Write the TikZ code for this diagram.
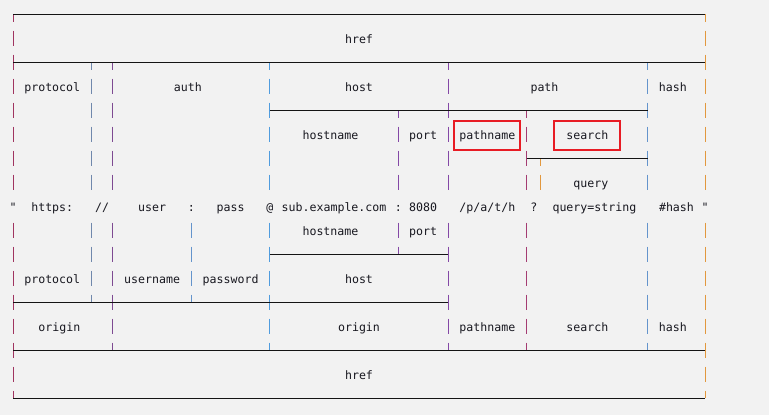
\documentclass[tikz,border=0pt]{standalone}
\usepackage{fontspec}
\newfontfamily\diagfont{DejaVu Sans Mono}[Ligatures=TeXOff]
\definecolor{bgcol}{RGB}{242,242,242}
\definecolor{txtcol}{RGB}{24,24,32}
\definecolor{linecol}{RGB}{20,20,20}
\definecolor{boxred}{RGB}{232,28,36}
\definecolor{barcrimson}{RGB}{160,52,96}
\definecolor{bargrey}{RGB}{112,136,172}
\definecolor{barplum}{RGB}{126,74,146}
\definecolor{barsky}{RGB}{100,148,204}
\definecolor{barblue}{RGB}{80,156,222}
\definecolor{barpurple}{RGB}{132,72,166}
\definecolor{barmagenta}{RGB}{164,60,114}
\definecolor{barorange}{RGB}{226,152,62}
\tikzset{
    vbar/.style={line width=0.75pt, dash pattern=on 11.25pt off 6.75pt},
    vtee/.style={vbar, dash phase=5.625pt},
    hbar/.style={line width=0.75pt, draw=linecol},
    lbl/.style={font=\diagfont\fontsize{8.7pt}{10pt}\selectfont, text=txtcol, inner sep=0pt,
        text height=6.4pt, text depth=1.8pt, anchor=base, yshift=-3.75pt},
    redbox/.style={draw=boxred, line width=1.5pt, minimum width=49.5pt, minimum height=21.75pt}
}

\begin{document}
\begin{tikzpicture}[x=5.3505pt, y=-18pt]
            \useasboundingbox[fill=bgcol] (-1.8223,-0.5833) rectangle (105.97,16.7083);
            \draw[vtee, draw=barcrimson] (0,0)--(0,7.3125);
            \draw[vbar, draw=barcrimson] (0,8.6875)--(0,16);
            \draw[vtee, draw=bargrey] (11,2)--(11,7.3125);
            \draw[vbar, draw=bargrey] (11,8.6875)--(11,12);
            \draw[vtee, draw=barplum] (14,2)--(14,7.3125);
            \draw[vbar, draw=barplum] (14,8.6875)--(14,14);
            \draw[vbar, draw=barsky] (25,8.6875)--(25,12);
            \draw[vtee, draw=barblue] (36,2)--(36,7.3125);
            \draw[vbar, draw=barblue] (36,8.6875)--(36,14);
            \draw[vtee, draw=barpurple] (54,4)--(54,7.3125);
            \draw[vbar, draw=barpurple] (54,8.6875)--(54,10);
            \draw[vtee, draw=barpurple] (61,2)--(61,7.3125);
            \draw[vbar, draw=barpurple] (61,8.6875)--(61,14);
            \draw[vtee, draw=barmagenta] (72,4)--(72,7.3125);
            \draw[vbar, draw=barmagenta] (72,8.6875)--(72,14);
            \draw[vtee, draw=barorange] (74,6)--(74,7.3125);
            \draw[vtee, draw=barsky] (89,2)--(89,7.3125);
            \draw[vbar, draw=barsky] (89,8.6875)--(89,14);
            \draw[vtee, draw=barorange] (97,0)--(97,7.3125);
            \draw[vbar, draw=barorange] (97,8.6875)--(97,16);
            \draw[hbar] (0,0)--(97,0);
            \draw[hbar] (0,2)--(97,2);
            \draw[hbar] (36,4)--(89,4);
            \draw[hbar] (72,6)--(89,6);
            \draw[hbar] (36,10)--(61,10);
            \draw[hbar] (0,12)--(61,12);
            \draw[hbar] (0,14)--(97,14);
            \draw[hbar] (0,16)--(97,16);
            \node[lbl] (href-top) at (48.5,1) {href};
            \node[lbl] (protocol-top) at (5.5,3) {protocol};
            \node[lbl] (auth) at (24.5,3) {auth};
            \node[lbl] (host-top) at (48.5,3) {host};
            \node[lbl] (path) at (74.5,3) {path};
            \node[lbl] (hash-top) at (92.5,3) {hash};
            \node[lbl] (hostname-top) at (44.5,5) {hostname};
            \node[lbl] (port-top) at (57.5,5) {port};
            \node[lbl, redbox] (pathname-top) at (66.5,5) {pathname};
            \node[lbl, redbox] (search-top) at (80.5,5) {search};
            \node[lbl] (query) at (81,7) {query};
            \node[lbl] (quote-l) at (0,8) {"};
            \node[lbl] (s-protocol) at (5.5,8) {https:};
            \node[lbl] (s-slashes) at (12.5,8) {//};
            \node[lbl] (s-user) at (19.5,8) {user};
            \node[lbl] (s-colon-a) at (25,8) {:};
            \node[lbl] (s-pass) at (30.5,8) {pass};
            \node[lbl] (s-at) at (36,8) {@};
            \node[lbl] (s-host) at (45,8) {sub.example.com};
            \node[lbl] (s-colon-b) at (54,8) {:};
            \node[lbl] (s-port) at (57.5,8) {8080};
            \node[lbl] (s-path) at (66.5,8) {/p/a/t/h};
            \node[lbl] (s-qmark) at (73,8) {?};
            \node[lbl] (s-query) at (81.5,8) {query=string};
            \node[lbl] (s-hash) at (93,8) {\#hash};
            \node[lbl] (quote-r) at (97,8) {"};
            \node[lbl] (hostname-bot) at (44.5,9) {hostname};
            \node[lbl] (port-bot) at (57.5,9) {port};
            \node[lbl] (protocol-bot) at (5.5,11) {protocol};
            \node[lbl] (username) at (19.5,11) {username};
            \node[lbl] (password) at (30.5,11) {password};
            \node[lbl] (host-bot) at (48.5,11) {host};
            \node[lbl] (origin-l) at (6.5,13) {origin};
            \node[lbl] (origin-r) at (48.5,13) {origin};
            \node[lbl] (pathname-bot) at (66.5,13) {pathname};
            \node[lbl] (search-bot) at (80.5,13) {search};
            \node[lbl] (hash-bot) at (92.5,13) {hash};
            \node[lbl] (href-bot) at (48.5,15) {href};
\end{tikzpicture}
\end{document}
